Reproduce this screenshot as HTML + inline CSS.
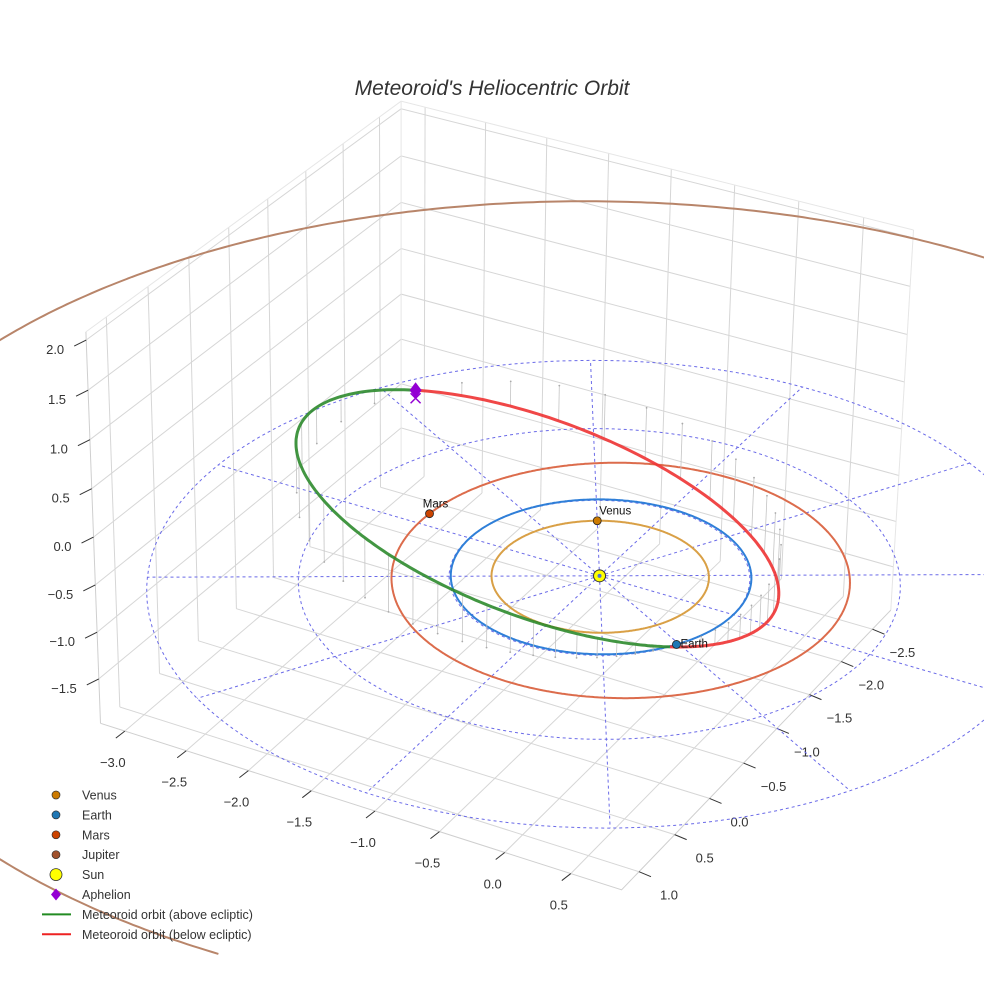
<!DOCTYPE html>
<html><head><meta charset="utf-8">
<style>
html,body{margin:0;padding:0;background:#fff;overflow:hidden;width:984px;height:984px;}
svg{display:block;font-family:"Liberation Sans",Arial,sans-serif;}
</style></head>
<body>
<svg id="chart" width="984" height="984" viewBox="0 0 984 984" xmlns="http://www.w3.org/2000/svg" overflow="hidden">
<rect width="984" height="984" fill="#fff"/>
<g id="scene"></g>
<text x="492" y="95" text-anchor="middle" font-size="21" font-style="italic" fill="#333">Meteoroid's Heliocentric Orbit</text>
<g id="legend"></g>
</svg>
<script>
// ---- data ----
const xTicks=[-3.0,-2.5,-2.0,-1.5,-1.0,-0.5,0.0,0.5];
const yTicks=[-2.5,-2.0,-1.5,-1.0,-0.5,0.0,0.5,1.0];
const zTicks=[-1.5,-1.0,-0.5,0.0,0.5,1.0,1.5,2.0];
const xRange=[-3.2,0.88];
const yRange=[-2.8,1.24];
const zRange=[-1.98,2.08];
const planetNames=["Venus","Earth","Mars","Jupiter"];
const planetRadii=[0.723,1.0,1.524,5.2];
const planetEcc=[0.007,0.017,0.093,0.065];
const planetPeriAngles=[130,100,150,60];
const planetAngles=[240,31,186,150];
const planetOrbitColors=["#d9a046","#2f7fd8","#dc6c4c","#b8856a"];
const planetMarkerColors=["#cc7a00","#1f77b4","#cc4400","#a0522d"];
const meteoroidPerihelion=[1.0];
const meteoroidAphelion=[2.85];
const meteoroidArgPeri=[34];
const meteoroidIncl=[22];
const gridRadii=[1,2,3];
const gridAngles=[0,30,60,90,120,150,180,210,240,270,300,330];

// camera calibration (world -> screen) used to build the projection
const calWorld=[[0,0,0],[0,0,0],[0,0,0],[0,0,0],[-2.598,1.5,0],[-2.598,1.5,0],
 [0.5,1.24,-1.98],[0,1.24,-1.98],[-1,1.24,-1.98],[-2,1.24,-1.98],[-3,1.24,-1.98],
 [0.88,1,-1.98],[0.88,0,-1.98],[0.88,-1,-1.98],[0.88,-2,-1.98],[0.88,-2.5,-1.98],
 [-3.2,1.24,2],[-3.2,1.24,1],[-3.2,1.24,0],[-3.2,1.24,-1],[-3.2,1.24,-1.5],
 [-3.2,-2.8,2],[-3.2,-2.8,1.5],[-3.0,-2.8,2],[0.5,-2.8,2],[0.88,-2.8,2],[0.88,-2.8,1.5]];
const calScreen=[[600,575],[600,575],[600,575],[600,575],[150,575],[150,575],
 [571,876],[505,855],[376,810],[250,769],[125,731],
 [637,872],[708,798],[775,728],[842,662],[873,629],
 [85,343],[88,439],[92,537],[96,635],[98,679],
 [401,109],[401,156],[425,115],[863,225],[913,238],[911,287]];
// scene clip (near plane of the 3D viewport, in screen px)
const sceneClipBottom=955;

// ---- projection fit (DLT least squares) ----
function solve(A,b){const n=b.length;for(let i=0;i<n;i++){let m=i;for(let r=i+1;r<n;r++)if(Math.abs(A[r][i])>Math.abs(A[m][i]))m=r;[A[i],A[m]]=[A[m],A[i]];[b[i],b[m]]=[b[m],b[i]];for(let r=i+1;r<n;r++){const f=A[r][i]/A[i][i];for(let c=i;c<n;c++)A[r][c]-=f*A[i][c];b[r]-=f*b[i];}}const x=new Array(n).fill(0);for(let i=n-1;i>=0;i--){let s=b[i];for(let c=i+1;c<n;c++)s-=A[i][c]*x[c];x[i]=s/A[i][i];}return x;}
const rows=[],rhs=[];
calWorld.forEach((w,i)=>{const [X,Y,Z]=w,[u,v]=calScreen[i];
 rows.push([X,Y,Z,1,0,0,0,0,-u*X,-u*Y,-u*Z]);rhs.push(u);
 rows.push([0,0,0,0,X,Y,Z,1,-v*X,-v*Y,-v*Z]);rhs.push(v);});
const N=Array.from({length:11},()=>new Array(11).fill(0)),B=new Array(11).fill(0);
rows.forEach((r,k)=>{for(let i=0;i<11;i++){B[i]+=r[i]*rhs[k];for(let j=0;j<11;j++)N[i][j]+=r[i]*r[j];}});
const p=solve(N,B);
function P(x,y,z){const d=p[8]*x+p[9]*y+p[10]*z+1;return [(p[0]*x+p[1]*y+p[2]*z+p[3])/d,(p[4]*x+p[5]*y+p[6]*z+p[7])/d,d];}

const NS="http://www.w3.org/2000/svg";
const scene=document.getElementById('scene');
function el(tag,attrs,parent){const e=document.createElementNS(NS,tag);for(const k in attrs)e.setAttribute(k,attrs[k]);(parent||scene).appendChild(e);return e;}
function pathOf(pts,maxY){let d="",pen=false;pts.forEach(q=>{const s=P(q[0],q[1],q[2]);if(s[2]<=0.08||Math.abs(s[0])>5000||Math.abs(s[1])>5000||(maxY&&s[1]>maxY)){pen=false;return;}d+=(pen?"L":"M")+s[0].toFixed(1)+" "+s[1].toFixed(1);pen=true;});return d;}

// ---- walls & grid ----
const [x0,x1]=xRange,[y0,y1]=yRange,[z0,z1]=zRange;
const gridG=el('g',{});


const gs={stroke:"#d6d6d6","stroke-width":1,fill:"none"};
xTicks.forEach(x=>{el('path',Object.assign({d:pathOf([[x,y0,z0],[x,y1,z0]])},gs),gridG);el('path',Object.assign({d:pathOf([[x,y0,z0],[x,y0,z1]])},gs),gridG);});
yTicks.forEach(y=>{el('path',Object.assign({d:pathOf([[x0,y,z0],[x1,y,z0]])},gs),gridG);el('path',Object.assign({d:pathOf([[x0,y,z0],[x0,y,z1]])},gs),gridG);});
zTicks.forEach(z=>{el('path',Object.assign({d:pathOf([[x0,y1,z],[x0,y0,z],[x1,y0,z]])},gs),gridG);});
const es={stroke:"#e6e6e6","stroke-width":1,fill:"none"};
el('path',Object.assign({d:pathOf([[x0,y1,z1],[x0,y0,z1],[x1,y0,z1]])},es),gridG);
el('path',Object.assign({d:pathOf([[x0,y0,z0],[x0,y0,z1]])},es),gridG);
el('path',Object.assign({d:pathOf([[x1,y0,z0],[x1,y0,z1]])},es),gridG);
el('path',Object.assign({d:pathOf([[x0,y1,z0],[x1,y1,z0],[x1,y0,z0]])},{stroke:"#cfcfcf","stroke-width":1,fill:"none"}),gridG);
el('path',Object.assign({d:pathOf([[x0,y1,z0],[x0,y1,z1]])},{stroke:"#cfcfcf","stroke-width":1,fill:"none"}),gridG);

// ---- ticks & labels ----
const tickG=el('g',{});


function fmt(v){return (v<0?"\u2212":"")+Math.abs(v).toFixed(1);}
xTicks.forEach(x=>{const a=P(x,y1,z0);el('line',{x1:a[0],y1:a[1],x2:a[0]-9,y2:a[1]+7,stroke:"#333","stroke-width":1},tickG);
 const t=el('text',{x:a[0]-12,y:a[1]+36,"text-anchor":"middle","font-size":13,fill:"#333"},tickG);t.textContent=fmt(x);
 });
yTicks.forEach(y=>{const a=P(x1,y,z0);el('line',{x1:a[0],y1:a[1],x2:a[0]+12,y2:a[1]+5,stroke:"#333","stroke-width":1},tickG);
 const t=el('text',{x:a[0]+30,y:a[1]+28,"text-anchor":"middle","font-size":13,fill:"#333"},tickG);t.textContent=fmt(y);
 });
zTicks.forEach(z=>{const a=P(x0,y1,z);el('line',{x1:a[0],y1:a[1],x2:a[0]-12,y2:a[1]+6,stroke:"#333","stroke-width":1},tickG);
 const t=el('text',{x:a[0]-22,y:a[1]+14,"text-anchor":"end","font-size":13,fill:"#333"},tickG);t.textContent=fmt(z);
 });

// ---- ecliptic dashed grid ----
const ecl=el('g',{});


const ds={stroke:"#6a6ae8","stroke-width":1,fill:"none","stroke-dasharray":"3,3"};
gridRadii.forEach(r=>{const pts=[];for(let k=0;k<=360;k+=2){const a=k*Math.PI/180;pts.push([r*Math.cos(a),r*Math.sin(a),0]);}el('path',Object.assign({d:pathOf(pts)},ds),ecl);});
const rMax=gridRadii[gridRadii.length-1];
gridAngles.forEach(g=>{const a=g*Math.PI/180;el('path',Object.assign({d:pathOf([[0,0,0],[rMax*Math.cos(a),rMax*Math.sin(a),0]])},ds),ecl);});

// ---- planet orbits ----
function planetR(i,a){const e=planetEcc[i];return planetRadii[i]*(1-e*e)/(1+e*Math.cos(a-planetPeriAngles[i]*Math.PI/180));}
planetNames.forEach((n,i)=>{const pts=[];for(let k=0;k<=720;k++){const a=k*Math.PI/360,r=planetR(i,a);pts.push([r*Math.cos(a),r*Math.sin(a),0]);}
 const e=el('path',{d:pathOf(pts,sceneClipBottom),stroke:planetOrbitColors[i],"stroke-width":2,fill:"none"});
 
 });

// ---- meteoroid orbit ----
const q=meteoroidPerihelion[0],Q=meteoroidAphelion[0];
const sa=(q+Q)/2,se=(Q-q)/(Q+q),om=meteoroidArgPeri[0]*Math.PI/180,inc=meteoroidIncl[0]*Math.PI/180;
function orbitPt(nu){const r=sa*(1-se*se)/(1+se*Math.cos(nu));const xp=r*Math.cos(nu),yp=r*Math.sin(nu)*Math.cos(inc),z=r*Math.sin(nu)*Math.sin(inc);
 return [xp*Math.cos(om)-yp*Math.sin(om),xp*Math.sin(om)+yp*Math.cos(om),z];}
const stemG=el('g',{});


for(let k=0;k<48;k++){const nu=k*2*Math.PI/48;const a=orbitPt(nu);if(Math.abs(a[2])<0.03)continue;const s1=P(a[0],a[1],a[2]),s2=P(a[0],a[1],0);
 el('line',{x1:s1[0],y1:s1[1],x2:s2[0],y2:s2[1],stroke:"#c4c4c4","stroke-width":0.8},stemG);el('circle',{cx:s2[0],cy:s2[1],r:0.9,fill:"#aaa"},stemG);}
const above=[],below=[];
for(let k=0;k<=180;k++){above.push(orbitPt(k*Math.PI/180));below.push(orbitPt(Math.PI+k*Math.PI/180));}
const gLine=el('path',{d:pathOf(above),stroke:"#2e8b2e","stroke-width":3,fill:"none","stroke-opacity":0.9});


const rLine=el('path',{d:pathOf(below),stroke:"#ee3333","stroke-width":3,fill:"none","stroke-opacity":0.9});



// ---- sun ----
const sunS=P(0,0,0);
const sun=el('circle',{cx:sunS[0],cy:sunS[1],r:6,fill:"#ffff00",stroke:"#333","stroke-width":1});


el('circle',{cx:sunS[0],cy:sunS[1],r:2,fill:"#5577cc"});

// ---- planets ----
const labelDx=[18,4,6,0],labelDy=[-6,3,-6,-6],labelAnchor=["middle","start","middle","middle"];
planetNames.forEach((n,i)=>{const a=planetAngles[i]*Math.PI/180,r=planetR(i,a);const s=P(r*Math.cos(a),r*Math.sin(a),0);
 if(s[1]>sceneClipBottom||s[2]<=0.08)return;
 const m=el('circle',{cx:s[0],cy:s[1],r:4,fill:planetMarkerColors[i],stroke:"#222","stroke-width":0.8});
 
 
 const t=el('text',{x:s[0]+labelDx[i],y:s[1]+labelDy[i],"text-anchor":labelAnchor[i],"font-size":11.5,fill:"#111"});t.textContent=n;
 
 });

// ---- aphelion ----
const ap=orbitPt(Math.PI);const aS=P(ap[0],ap[1],ap[2]);
const dia=el('path',{d:`M${aS[0]} ${aS[1]-8}L${aS[0]+6} ${aS[1]}L${aS[0]} ${aS[1]+8}L${aS[0]-6} ${aS[1]}Z`,fill:"#9400d3"});


el('path',{d:`M${aS[0]-5} ${aS[1]+3}L${aS[0]+5} ${aS[1]+13}M${aS[0]+5} ${aS[1]+3}L${aS[0]-5} ${aS[1]+13}`,stroke:"#9400d3","stroke-width":1.5});

// ---- legend ----
const legendLabels=["Venus","Earth","Mars","Jupiter","Sun","Aphelion","Meteoroid orbit (above ecliptic)","Meteoroid orbit (below ecliptic)"];
const lg=document.getElementById('legend');
legendLabels.forEach((lab,i)=>{const y=795+i*19.9;const g=el('g',{},lg);
 
 
 if(i<4)el('circle',{cx:56,cy:y,r:4,fill:planetMarkerColors[i],stroke:"#333","stroke-width":0.7},g);
 else if(i===4)el('circle',{cx:56,cy:y,r:6,fill:"#ffff00",stroke:"#333","stroke-width":0.8},g);
 else if(i===5)el('path',{d:`M56 ${y-6}L61 ${y}L56 ${y+6}L51 ${y}Z`,fill:"#9400d3"},g);
 else el('line',{x1:42,y1:y,x2:71,y2:y,stroke:i===6?"#228b22":"#ee2222","stroke-width":2},g);
 const t=el('text',{x:82,y:y+4.5,"font-size":12.5,fill:"#333"},g);t.textContent=lab;});
</script>
</body></html>
